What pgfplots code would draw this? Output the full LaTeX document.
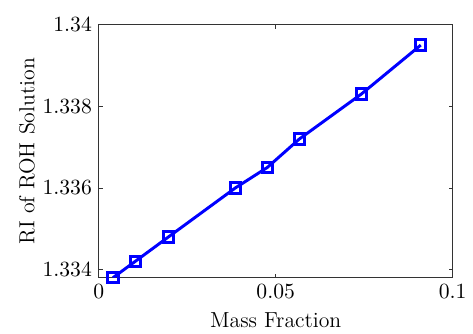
\documentclass[border=0pt]{standalone}
\usepackage{pgfplots}
\pgfplotsset{compat=1.18}
\begin{document}
\begin{tikzpicture}
\begin{axis}[
  scale only axis,
  width=179pt, height=128pt,
  xmin=0, xmax=0.1,
  ymin=1.3338, ymax=1.34,
  xtick={0,0.05,0.1},
  ytick={1.334,1.336,1.338,1.34},
  scaled x ticks=false, scaled y ticks=false,
  yticklabel style={/pgf/number format/fixed,/pgf/number format/precision=3},
  xticklabel style={/pgf/number format/fixed,/pgf/number format/precision=3},
  tick label style={font=\fontsize{11}{13}\selectfont},
  label style={font=\fontsize{11}{13}\selectfont},
  tick align=inside,
  major tick length=2pt,
  axis line style={black!80, line width=0.4pt},
  tick style={black!80, line width=0.4pt},
  xlabel={Mass Fraction},
  ylabel={RI of ROH Solution},
  xlabel style={yshift=0pt},
  ylabel style={yshift=-3pt},
]
\addplot[color=blue, line width=1.5pt, mark=square, mark size=2.6pt, mark options={fill=white, line width=1.5pt}]
coordinates {
(0.0040,1.3338)
(0.0103,1.3342)
(0.0197,1.3348)
(0.0386,1.3360)
(0.0476,1.3365)
(0.0567,1.3372)
(0.0742,1.3383)
(0.0910,1.3395)
};
\end{axis}
\path[use as bounding box] (current axis.south west) ++(-50pt,-26.5pt) rectangle ++(236.5pt,167pt);
\end{tikzpicture}
\end{document}
